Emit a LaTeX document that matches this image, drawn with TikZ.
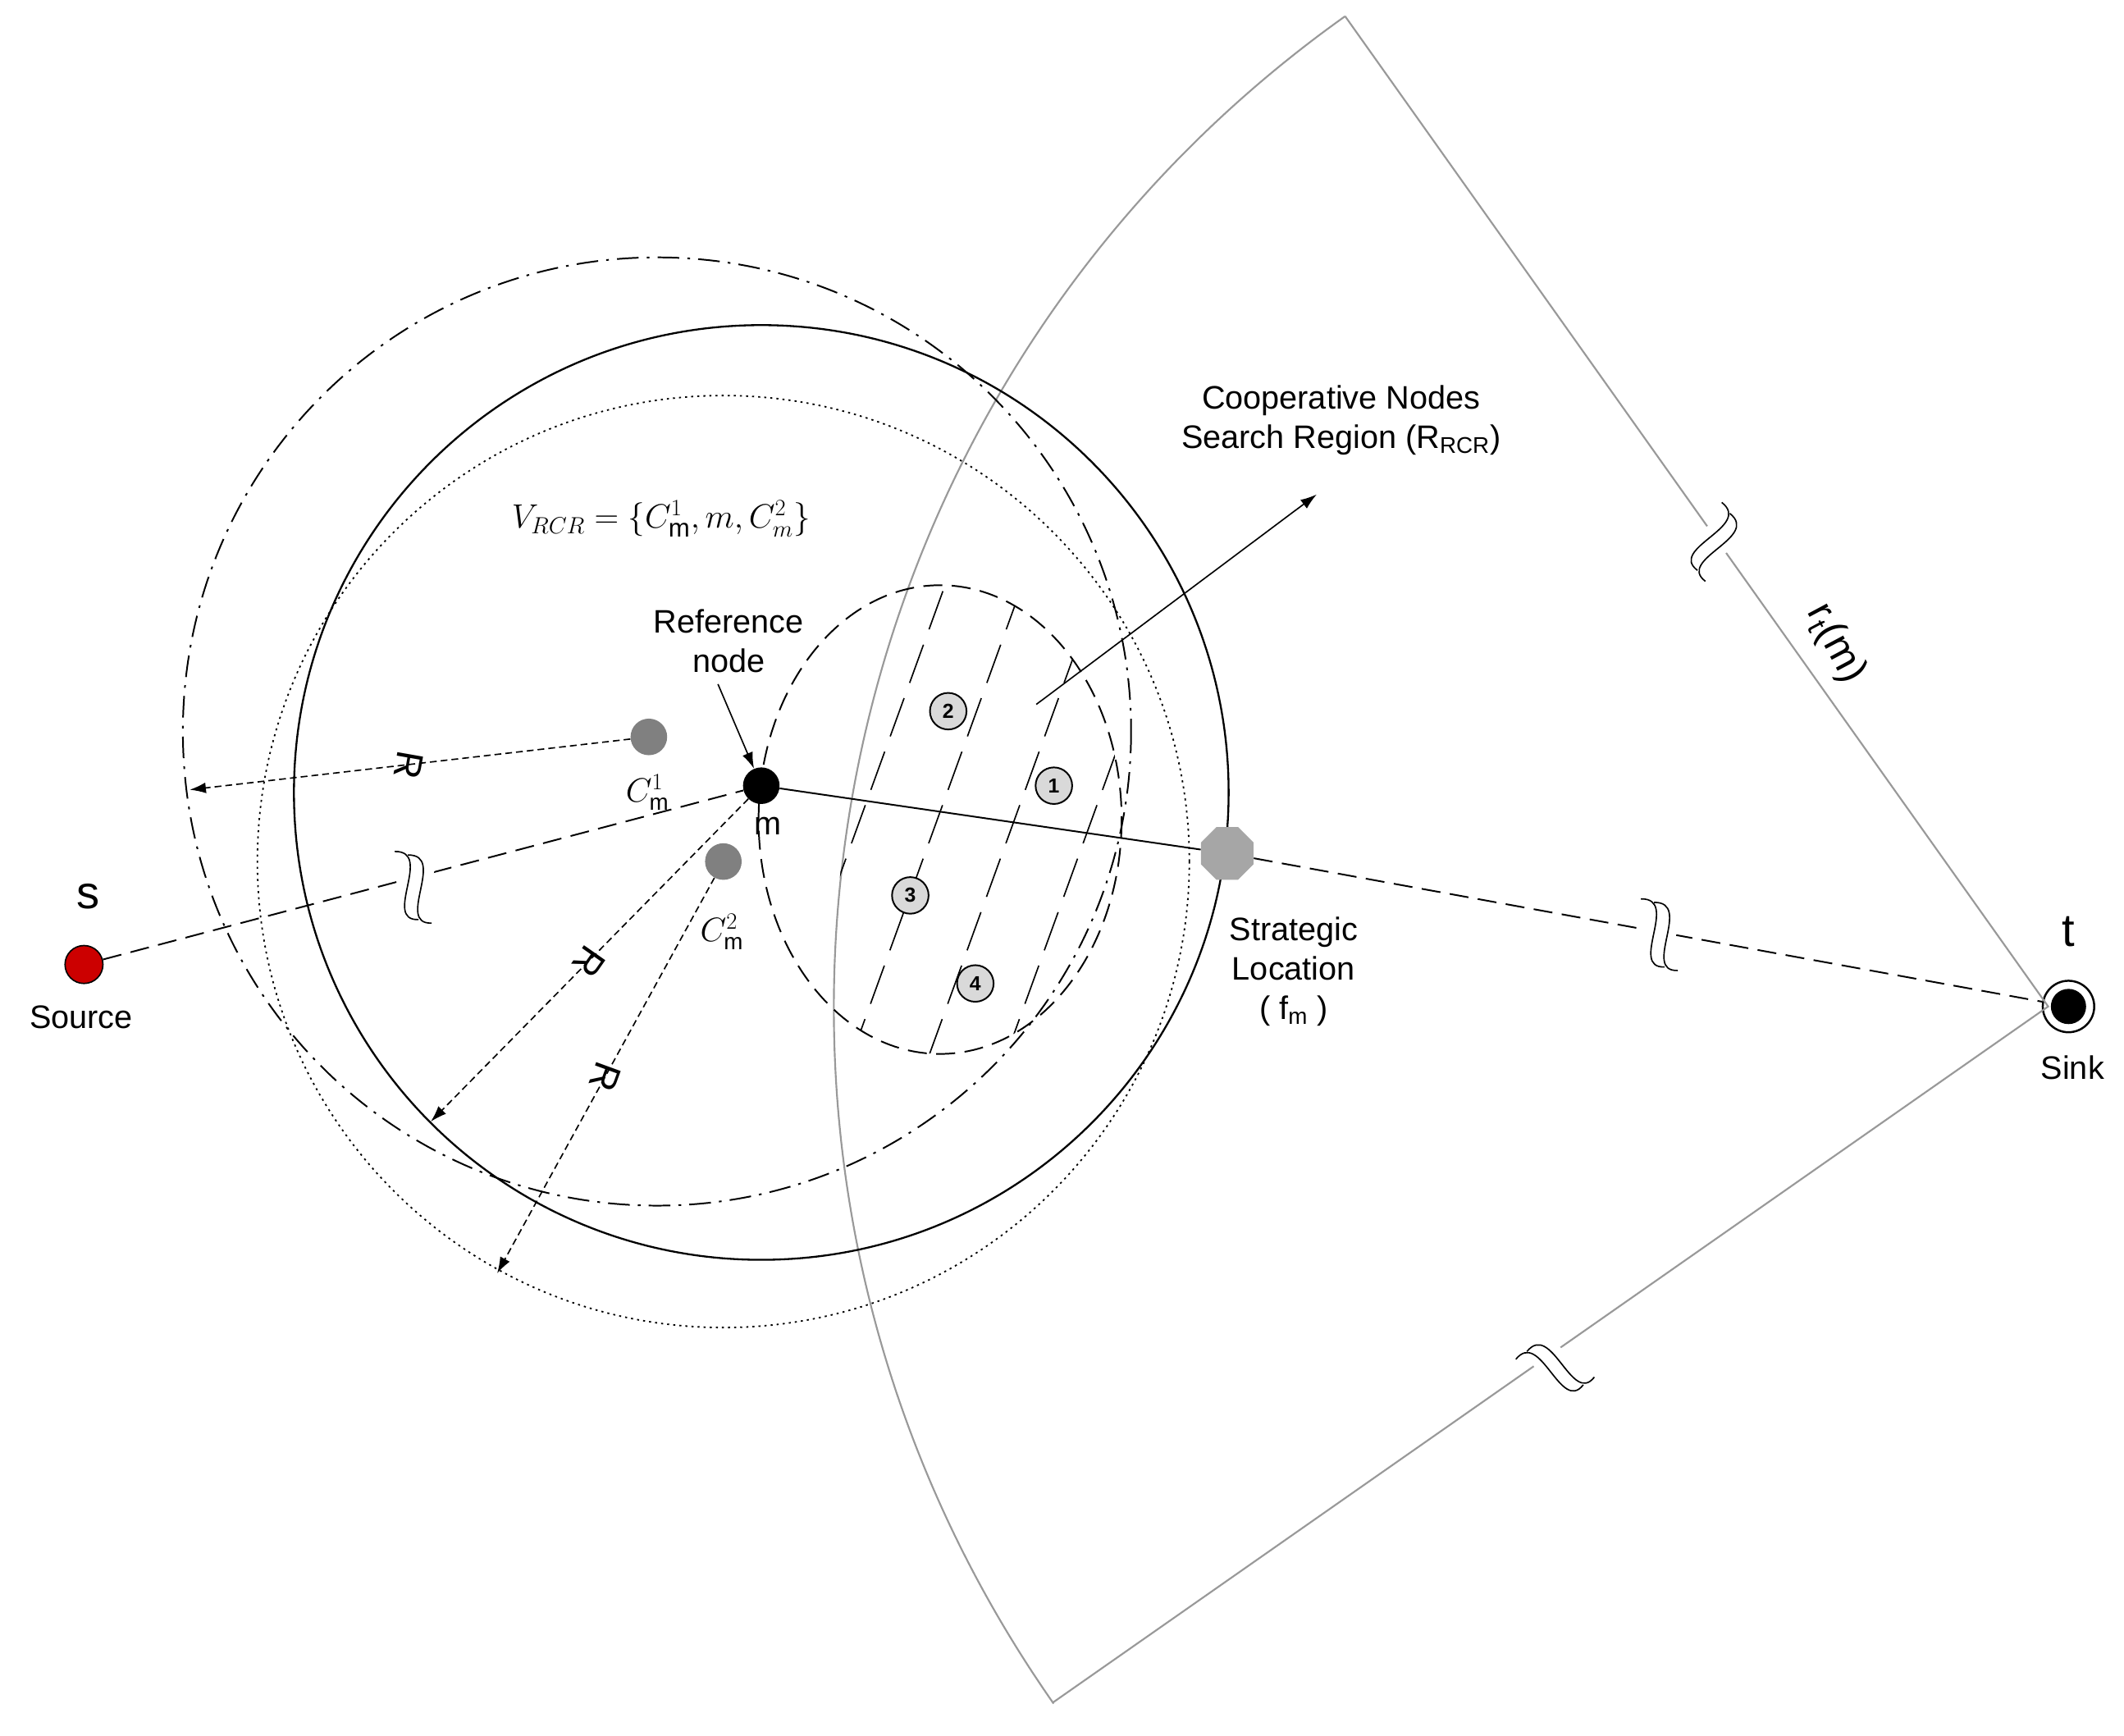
\documentclass[tikz,border=0pt]{standalone}
\usepackage{fontspec}
\setmainfont{Liberation Sans}
\usetikzlibrary{arrows.meta,shapes.geometric}
\newcommand\brkmark[3]{\begin{scope}[shift={(#1,#2)},rotate=#3]
\fill[white] (-12,-22) rectangle (12,22);
\draw[black,line width=1pt] (-20,-22) .. controls (8,-30) and (-16,30) .. (10,22);
\draw[black,line width=1pt] (-10,-22) .. controls (18,-30) and (-6,30) .. (20,22);
\end{scope}}
\begin{document}
\begin{tikzpicture}[x=1pt,y=-1pt,
  lbl/.style={font=\fontsize{24}{29}\selectfont,align=center},
  num/.style={circle,draw,fill=gray!30,minimum size=27pt,inner sep=0pt,font=\fontsize{15}{15}\selectfont\bfseries,line width=1.2pt},
  darr/.style={dash pattern=on 5pt off 3pt,-{Latex[length=12pt,width=8pt]},line width=1pt}]
\useasboundingbox (0,0) rectangle (1568,1281);
% sector
\coordinate (ta) at (993,12);
\coordinate (tb) at (777,1257);
\node[circle,draw,line width=1.5pt,minimum size=38pt,inner sep=0pt] (t) at (1527,743) {};
\fill (t) circle (13);
\draw[gray!80,line width=1.3pt] (ta) -- (1512,743) -- (tb);
\draw[gray!80,line width=1.3pt] (ta) arc[start angle=234.6, end angle=145, radius=897];
% circles
\draw[line width=1.4pt] (562,585) circle (345);
\draw[line width=1.2pt,dash pattern=on 16pt off 6pt on 2pt off 6pt] (485,540) circle (350);
\draw[line width=1.1pt,dash pattern=on 1.5pt off 3pt] (534,636) circle (344);
\draw[line width=1.2pt,dash pattern=on 14pt off 7pt] (694,605) ellipse [x radius=134, y radius=173];
% hatch
\begin{scope}
\clip (694,605) ellipse [x radius=134, y radius=173];
\clip (1512,743) circle (897);
\foreach \k in {0,...,8}{
  \draw[line width=1pt,dash pattern=on 30pt off 12pt] (500+57*\k,820) -- (500+57*\k+145,420);}
\end{scope}
% nodes
\node[circle,fill=red!80!black,draw,minimum size=28pt,inner sep=0pt,line width=1pt] (s) at (62,712) {};
\node[circle,fill=black,minimum size=27pt,inner sep=0pt] (m) at (562,580) {};
\node[circle,fill=gray,minimum size=27pt,inner sep=0pt] (c1) at (479,544) {};
\node[circle,fill=gray,minimum size=27pt,inner sep=0pt] (c2) at (534,636) {};
\node[regular polygon,regular polygon sides=8,fill=gray!70,minimum size=42pt,inner sep=0pt] (f) at (906,630) {};
% lines
\draw[line width=1.2pt] (m) -- (f);
\draw[line width=1.2pt,dash pattern=on 14pt off 7pt] (f) -- (t);
\draw[line width=1.2pt,dash pattern=on 14pt off 7pt] (s) -- (m);
\coordinate (e1) at (140,583);
\coordinate (e2) at (318,828);
\coordinate (e3) at (367,940);
\draw[darr] (c1) -- (e1);
\draw[darr] (m) -- (e2);
\draw[darr] (c2) -- (e3);
\brkmark{305}{655}{-15}
\brkmark{1225}{690}{-15}
\brkmark{1265}{400}{-54}
\brkmark{1148}{1010}{35}
% numbered
\node[num] (n1) at (778,580) {1};
\node[num] (n2) at (700,525) {2};
\node[num] (n3) at (672,661) {3};
\node[num] (n4) at (720,726) {4};
% labels
\node[font=\fontsize{34}{34}\selectfont] (sl) at (65,662) {s};
\node[lbl] (srcl) at (60,751) {Source};
\node[font=\fontsize{34}{34}\selectfont] (tl) at (1527,688) {t};
\node[lbl] (sinkl) at (1530,788) {Sink};
\node[lbl] (ml) at (567,610) {m};
\node[font=\fontsize{24}{24}\selectfont] (c1l) at (478,585) {$C_{\mathrm m}^1$};
\node[font=\fontsize{24}{24}\selectfont] (c2l) at (533,688) {$C_{\mathrm m}^2$};
\node[lbl] (fl) at (955,717) {Strategic\\Location\\( f$_{\mathrm m}$ )};
\node[lbl] (refl) at (538,473) {Reference\\node};
\draw[-{Latex[length=12pt,width=8pt]},line width=1pt] (530,505) -- (m);
\node[lbl] (crl) at (990,310) {Cooperative Nodes\\Search Region (R$_{\mathrm{RCR}}$)};
\coordinate (cra) at (765,520);
\draw[-{Latex[length=12pt,width=8pt]},line width=1pt] (cra) -- (972,365);
\node[font=\fontsize{27}{27}\selectfont] (vl) at (488,383) {$V_{RCR}=\{C_{\mathrm m}^1,m,C_m^2\}$};
\node[font=\fontsize{30}{30}\selectfont,rotate=-62,inner sep=0pt] (rl) at (1355,475) {r\textsubscript{t}(m)};
\node[font=\fontsize{28}{28}\selectfont,rotate=-100,inner sep=0pt] (r1) at (302,565) {R};
\node[font=\fontsize{28}{28}\selectfont,rotate=-125,inner sep=0pt] (r2) at (435,710) {R};
\node[font=\fontsize{28}{28}\selectfont,rotate=-110,inner sep=0pt] (r3) at (447,795) {R};
\end{tikzpicture}
\end{document}
